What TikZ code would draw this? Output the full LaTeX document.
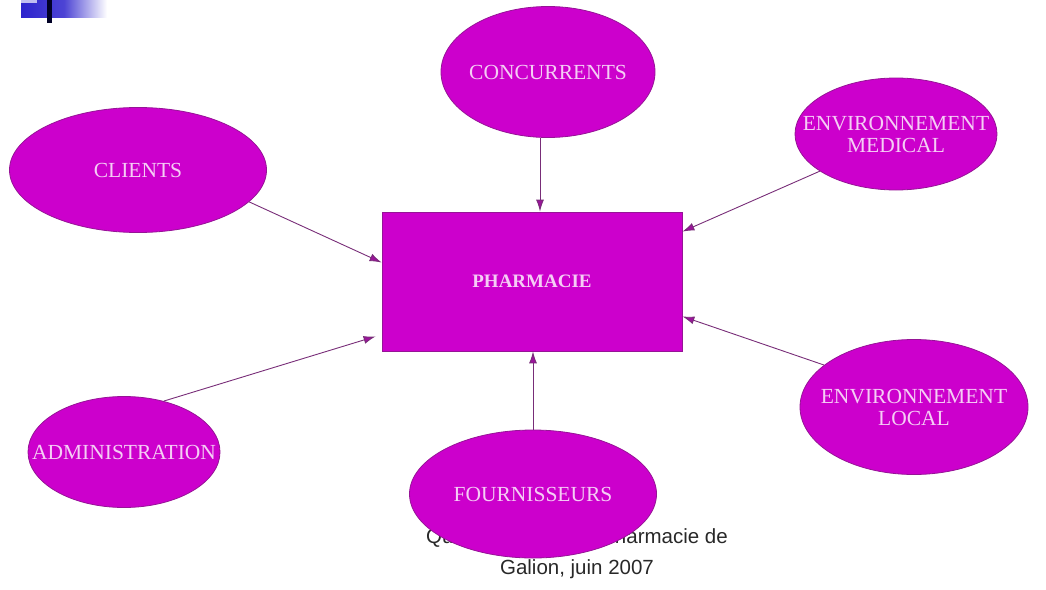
\documentclass[tikz,border=0pt]{standalone}
\usepackage{fontspec}
\setmainfont{Liberation Serif}
\newfontfamily\footfont{Liberation Sans}
\usetikzlibrary{arrows.meta,shapes.geometric}

\definecolor{bubblefill}{RGB}{204,0,204}
\definecolor{bubbleline}{RGB}{150,20,150}
\definecolor{bubbletext}{RGB}{245,205,245}
\definecolor{linkcol}{RGB}{120,45,120}
\definecolor{headcol}{RGB}{155,20,155}
\definecolor{barblue}{RGB}{45,35,205}
\definecolor{footgray}{RGB}{40,40,40}

\begin{document}
\begin{tikzpicture}[
  x=1pt, y=-1pt,
  bubble/.style={ellipse, draw=bubbleline, line width=.8pt, fill=bubblefill,
                 inner sep=0pt},
  btext/.style={text=bubbletext, align=center,
                font=\fontsize{21.5}{22}\selectfont},
  core/.style={rectangle, draw=bubbleline, line width=.8pt, fill=bubblefill,
               minimum width=300pt, minimum height=139pt, inner sep=0pt,
               text=bubbletext, font=\bfseries\fontsize{19}{20}\selectfont},
  link/.style={draw=linkcol, line width=.9pt,
               -{Latex[length=12pt,width=8pt,fill=headcol]}},
  foot/.style={text=footgray, align=center,
               font=\footfont\fontsize{20.5}{31}\selectfont}
]
\useasboundingbox (0,0) rectangle (1046,589);

% ---------- corner mark ----------
\shade[left color=barblue, right color=white, middle color=barblue!85]
  (21,0) rectangle (107,17);
\fill[barblue!30!white] (21,0) rectangle (37,3);
\fill[black!85!blue] (47,0) rectangle (52,23);

% ---------- footer (partly under the bubble) ----------
\node[foot] (footer) at (577,554) {Qualité en officine, Pharmacie de\\Galion, juin 2007};

% ---------- centre ----------
\node[core] (pharma) at (532,281.5) {PHARMACIE};

% ---------- bubbles ----------
\node[bubble, minimum width=214pt, minimum height=131pt,
      label={[btext]center:CONCURRENTS}] (concurrents) at (548,72) {};
\node[bubble, minimum width=202pt, minimum height=112pt,
      label={[btext]center:ENVIRONNEMENT\\MEDICAL}] (envmed) at (896,134) {};
\node[bubble, minimum width=257pt, minimum height=125pt,
      label={[btext]center:CLIENTS}] (clients) at (138,170) {};
\node[bubble, minimum width=228pt, minimum height=135pt,
      label={[btext]center:ENVIRONNEMENT\\LOCAL}] (envloc) at (914,407) {};
\node[bubble, minimum width=192pt, minimum height=111pt,
      label={[btext]center:ADMINISTRATION}] (admin) at (124,452) {};
\node[bubble, minimum width=247pt, minimum height=128pt,
      label={[btext]center:FOURNISSEURS}] (fournisseurs) at (533,494) {};

% ---------- links ----------
\draw[link] ([xshift=-8pt]concurrents.south) -- ([xshift=-8pt]concurrents.south |- pharma.north);
\draw[link] (envmed.206) -- ([yshift=-20pt]pharma.north east);
\draw[link] (clients.-16) -- ([yshift=19pt]pharma.west);
\draw[link] (envloc.155) -- ([yshift=35pt]pharma.south east);
\draw[link] (admin.52) -- ([xshift=-6pt,yshift=15pt]pharma.south west);
\draw[link] (fournisseurs.north) -- (fournisseurs.north |- pharma.south);

\end{tikzpicture}
\end{document}
